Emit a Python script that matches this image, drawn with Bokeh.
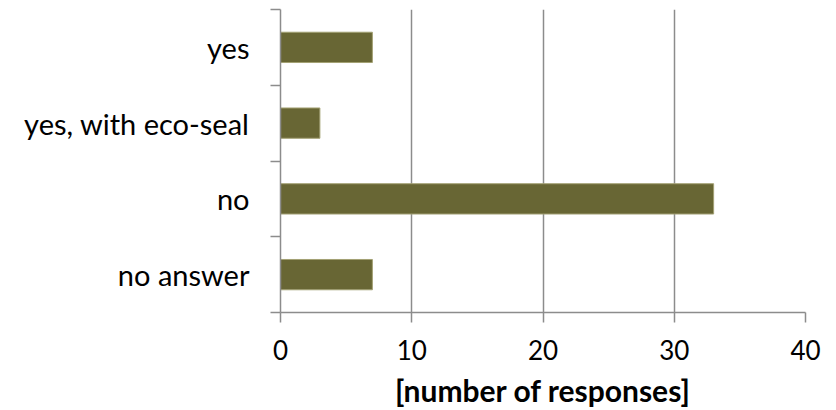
from bokeh.plotting import figure
from bokeh.models import FixedTicker, Range1d
from bokeh.embed import file_html
from bokeh.resources import INLINE

# Survey answers, listed top to bottom
categories = ["yes", "yes, with eco-seal", "no", "no answer"]
responses = [7, 3, 33, 7]
x_ticks = [0, 10, 20, 30, 40]
x_title = "[number of responses]"

BAR_FILL = "#686634"
BAR_EDGE = "#a3a174"
GRID = "#8c8c8c"
FONT = "Lato"

n = len(categories)
# row i (from the top) is centred at n - i - 0.5 on a 0..n scale
centres = [n - i - 0.5 for i in range(n)]
boundaries = list(range(n + 1))

p = figure(
    width=836, height=410,
    output_backend="svg", toolbar_location=None,
    x_range=Range1d(x_ticks[0], x_ticks[-1]), y_range=Range1d(0, n),
    min_border_left=280, min_border_right=31,
    min_border_top=9, min_border_bottom=97,
)
p.outline_line_color = None
p.background_fill_color = "white"
p.border_fill_color = "white"

p.hbar(y=centres, left=0, right=responses, height=0.4,
       fill_color=BAR_FILL, line_color=BAR_EDGE, line_width=1)

# x axis: ticks every 10, hanging below the axis line
xa = p.xaxis[0]
xa.ticker = FixedTicker(ticks=x_ticks, minor_ticks=[])
xa.axis_line_color = GRID
xa.axis_line_width = 1.5
xa.major_tick_line_color = GRID
xa.major_tick_line_width = 1.5
xa.major_tick_in = 0
xa.major_tick_out = 10
xa.minor_tick_line_color = None
xa.major_label_text_font = FONT
xa.major_label_text_font_size = "26px"
xa.major_label_text_color = "black"
xa.major_label_standoff = 17
xa.axis_label = x_title
xa.axis_label_text_font = FONT
xa.axis_label_text_font_size = "30px"
xa.axis_label_text_font_style = "bold"
xa.axis_label_text_color = "black"
xa.axis_label_standoff = 9

# y axis: labels at the row centres, tick marks on the row boundaries
ya = p.yaxis[0]
ya.ticker = FixedTicker(ticks=centres, minor_ticks=boundaries)
ya.major_label_overrides = {c: lab for c, lab in zip(centres, categories)}
ya.axis_line_color = GRID
ya.axis_line_width = 1.5
ya.major_tick_line_color = None
ya.major_tick_in = 0
ya.major_tick_out = 0
ya.minor_tick_line_color = GRID
ya.minor_tick_line_width = 1.5
ya.minor_tick_in = 0
ya.minor_tick_out = 10
ya.major_label_text_font = FONT
ya.major_label_text_font_size = "29px"
ya.major_label_text_color = "black"
ya.major_label_standoff = 21

p.xgrid.ticker = FixedTicker(ticks=x_ticks)
p.xgrid.grid_line_color = GRID
p.xgrid.grid_line_width = 1.5
p.ygrid.visible = False

open("out.html", "w").write(file_html(p, INLINE))
